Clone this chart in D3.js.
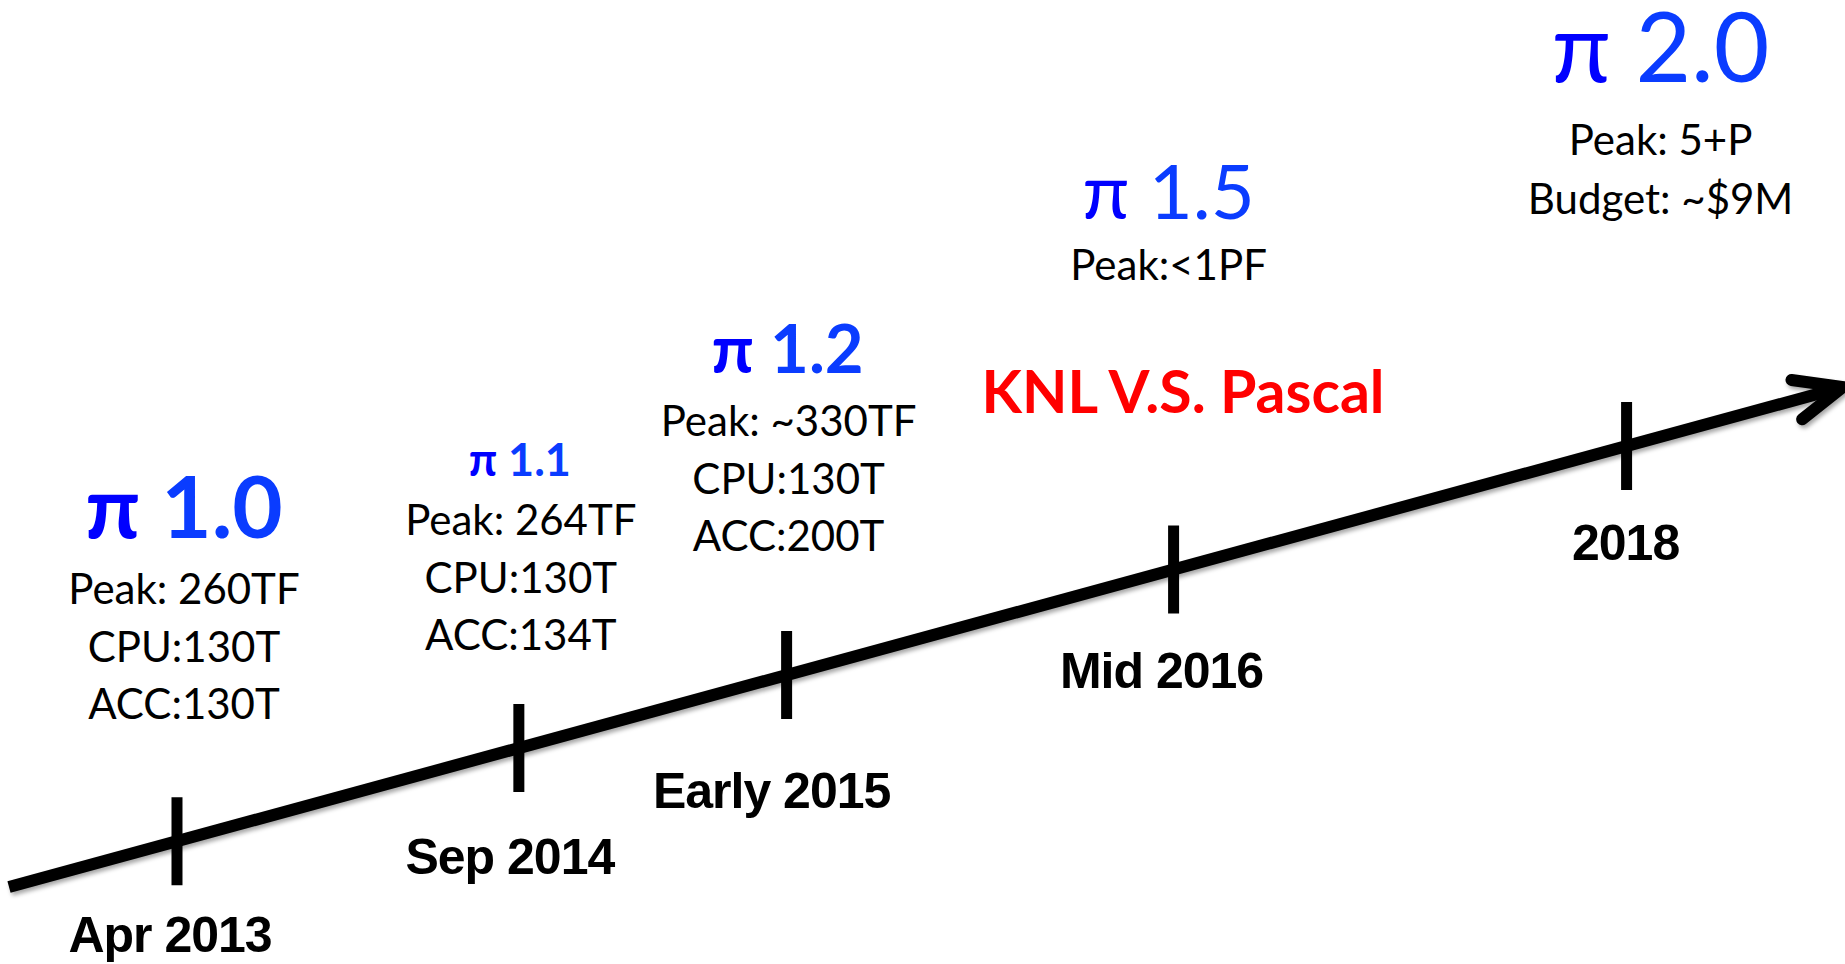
<!DOCTYPE html>
<html>
<head>
<meta charset="utf-8">
<script src="https://cdn.jsdelivr.net/npm/d3@7"></script>
<style>
  html, body { margin: 0; padding: 0; background: #ffffff; }
  svg { display: block; }
</style>
</head>
<body>
<svg id="chart" width="1845" height="964"></svg>
<script>
// ---------------- data ----------------
const milestones = ["Apr 2013", "Sep 2014", "Early 2015", "Mid 2016", "2018"];
// where each milestone sits along the timeline (0 = start of the line, 1 = arrow tip)
const milestoneAt = [0.0916, 0.278, 0.424, 0.635, 0.882];
const versions = ["1.0", "1.1", "1.2", "1.5", "2.0"];
const specs = [
  ["Peak: 260TF", "CPU:130T", "ACC:130T"],
  ["Peak: 264TF", "CPU:130T", "ACC:134T"],
  ["Peak: ~330TF", "CPU:130T", "ACC:200T"],
  ["Peak:<1PF"],
  ["Peak: 5+P", "Budget: ~$9M"]
];
const noteText = "KNL V.S. Pascal";

// ---------------- layout ----------------
const svg = d3.select("#chart");

const xAt = d3.scaleLinear().domain([0, 1]).range([9, 1843]);
const yAt = d3.scaleLinear().domain([0, 1]).range([887, 387]);

const bodyFont = "Lato, 'Open Sans', sans-serif";
const dateFont = "'Liberation Sans', Arial, sans-serif";

// per-milestone label layout (offsets from tick x, absolute baselines)
const titleLayout = [
  { dx: 7,  y: 538, size: 87, weight: 700 },
  { dx: 1,  y: 476, size: 45, weight: 700 },
  { dx: 1,  y: 373, size: 67, weight: 700 },
  { dx: -5, y: 219, size: 76, weight: 400 },
  { dx: 34, y: 82,  size: 96, weight: 400 }
];
const specLayout = [
  { dx: 7,  y: 604, step: 57.5 },
  { dx: 2,  y: 535, step: 57.5 },
  { dx: 2,  y: 436, step: 57.5 },
  { dx: -5, y: 280, step: 57.5 },
  { dx: 34, y: 155, step: 59 }
];
const dateLayout = [
  { dx: -7,  dy: 111 },
  { dx: -9,  dy: 126 },
  { dx: -15, dy: 133 },
  { dx: -12, dy: 118 },
  { dx: -1,  dy: 114 }
];

// shadow filter
const defs = svg.append("defs");
const f = defs.append("filter").attr("id", "shadow")
  .attr("x", "-5%").attr("y", "-20%").attr("width", "110%").attr("height", "140%");
f.append("feDropShadow").attr("dx", 2).attr("dy", 3).attr("stdDeviation", 2)
  .attr("flood-color", "#000").attr("flood-opacity", 0.35);

// ---------------- timeline ----------------
const axisG = svg.append("g").attr("filter", "url(#shadow)");
axisG.append("line")
  .attr("x1", xAt(0)).attr("y1", yAt(0))
  .attr("x2", xAt(1)).attr("y2", yAt(1))
  .attr("stroke", "#000").attr("stroke-width", 12).attr("stroke-linecap", "butt");

// arrow head (open chevron)
const tipX = xAt(1), tipY = yAt(1);
const backAng = Math.atan2(yAt(0) - yAt(1), xAt(0) - xAt(1));
const armLen = 52, armSpread = 23 * Math.PI / 180;
const arm = s => [tipX + armLen * Math.cos(backAng + s), tipY + armLen * Math.sin(backAng + s)];
axisG.append("path")
  .attr("d", d3.line()([arm(armSpread), [tipX, tipY], arm(-armSpread)]))
  .attr("fill", "none").attr("stroke", "#000").attr("stroke-width", 12)
  .attr("stroke-linecap", "round").attr("stroke-linejoin", "miter");

// ticks
svg.append("g").selectAll("line").data(milestoneAt).join("line")
  .attr("x1", d => xAt(d)).attr("x2", d => xAt(d))
  .attr("y1", d => yAt(d) - 44).attr("y2", d => yAt(d) + 44)
  .attr("stroke", "#000").attr("stroke-width", 11);

// date labels
svg.append("g").selectAll("text").data(milestones).join("text")
  .attr("x", (d, i) => xAt(milestoneAt[i]) + dateLayout[i].dx)
  .attr("y", (d, i) => yAt(milestoneAt[i]) + dateLayout[i].dy)
  .attr("text-anchor", "middle")
  .attr("font-family", dateFont).attr("font-weight", 700)
  .attr("font-size", 50).attr("letter-spacing", -1)
  .attr("fill", "#000")
  .text(d => d);

// version titles
const titles = svg.append("g").selectAll("text").data(versions).join("text")
  .attr("x", (d, i) => xAt(milestoneAt[i]) + titleLayout[i].dx)
  .attr("y", (d, i) => titleLayout[i].y)
  .attr("text-anchor", "middle")
  .attr("font-family", bodyFont)
  .attr("font-weight", (d, i) => titleLayout[i].weight)
  .attr("font-size", (d, i) => titleLayout[i].size);
titles.append("tspan").attr("fill", "#0000ff").text("π");
titles.append("tspan").attr("fill", "#0a3cff").text(d => " " + d);

// spec lines
specs.forEach((lines, i) => {
  svg.append("g").selectAll("text").data(lines).join("text")
    .attr("x", xAt(milestoneAt[i]) + specLayout[i].dx)
    .attr("y", (d, j) => specLayout[i].y + j * specLayout[i].step)
    .attr("text-anchor", "middle")
    .attr("font-family", bodyFont).attr("font-size", 42)
    .attr("fill", "#000")
    .text(d => d);
});

// note
svg.append("text")
  .attr("x", 1183).attr("y", 413)
  .attr("text-anchor", "middle")
  .attr("font-family", bodyFont).attr("font-weight", 700).attr("font-size", 59)
  .attr("fill", "#ff0000")
  .text(noteText);
</script>
</body>
</html>
